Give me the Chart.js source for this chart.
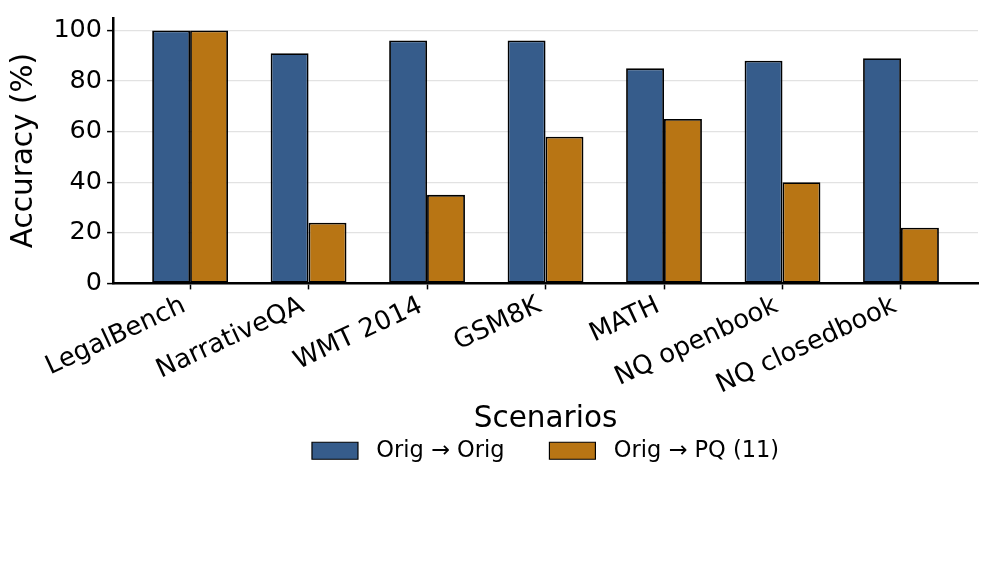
<!DOCTYPE html>
<html>
<head>
<meta charset="utf-8">
<script src="https://cdn.jsdelivr.net/npm/chart.js@4/dist/chart.umd.min.js"></script>
<style>
  html, body { margin: 0; padding: 0; background: #ffffff; }
  #wrap { width: 996px; height: 586px; }
</style>
</head>
<body>
<div id="wrap"><canvas id="c" width="996" height="586"></canvas></div>
<script>
const categories = ["LegalBench", "NarrativeQA", "WMT 2014", "GSM8K", "MATH", "NQ openbook", "NQ closedbook"];
const origOrig = [100, 91, 96, 96, 85, 88, 89];
const origPQ = [100, 24, 35, 58, 65, 40, 22];
const seriesNames = ["Orig \u2192 Orig", "Orig \u2192 PQ (11)"];
const yTicks = [0, 20, 40, 60, 80, 100];

const FONT = "'DejaVu Sans', sans-serif";
const toXY = arr => arr.map((v, i) => ({ x: i, y: v }));

// center the legend under the plot area (as the reference does)
const legendCenter = {
  id: 'legendCenter',
  afterLayout(chart) {
    if (chart.legend) {
      chart.legend.left = chart.chartArea.left;
      chart.legend.right = chart.chartArea.right;
    }
  }
};

new Chart(document.getElementById('c'), {
  type: 'bar',
  data: {
    datasets: [
      { label: seriesNames[0], data: toXY(origOrig), backgroundColor: '#365c8b', borderColor: '#000000', borderWidth: 1.8, borderSkipped: false },
      { label: seriesNames[1], data: toXY(origPQ), backgroundColor: '#b87514', borderColor: '#000000', borderWidth: 1.8, borderSkipped: false }
    ]
  },
  plugins: [legendCenter],
  options: {
    responsive: false,
    animation: false,
    devicePixelRatio: 1,
    categoryPercentage: 0.64,
    barPercentage: 1.0,
    layout: { padding: { left: 3, right: 18, top: 17, bottom: 114 } },
    plugins: {
      tooltip: { enabled: false },
      legend: {
        position: 'bottom',
        labels: {
          font: { family: FONT, size: 22.5 },
          color: '#000000',
          boxWidth: 46,
          boxHeight: 17,
          padding: 2,
          generateLabels: chart => chart.data.datasets.map((d, i) => ({
            text: ' ' + d.label + (i === 0 ? '      ' : ''),
            fillStyle: d.backgroundColor, strokeStyle: '#000000', lineWidth: 1.2, datasetIndex: i, hidden: false
          }))
        }
      }
    },
    scales: {
      x: {
        type: 'linear',
        min: -0.65,
        max: 6.65,
        offset: false,
        afterBuildTicks: s => { s.ticks = categories.map((c, i) => ({ value: i })); },
        ticks: {
          autoSkip: false,
          minRotation: 25,
          maxRotation: 25,
          padding: 1,
          labelOffset: -6,
          color: '#000000',
          font: { family: FONT, size: 26 },
          callback: v => categories[v]
        },
        grid: { offset: false, drawOnChartArea: false, drawTicks: true, tickLength: 6, tickColor: '#000000', tickWidth: 1.5 },
        border: { display: true, color: '#000000', width: 2.5 },
        title: { display: true, text: 'Scenarios', font: { family: FONT, size: 29.5 }, color: '#000000', padding: { top: 0, bottom: 0 } }
      },
      y: {
        min: 0,
        max: 105,
        afterBuildTicks: s => { s.ticks = yTicks.map(v => ({ value: v })); },
        ticks: { color: '#000000', font: { family: FONT, size: 25.5, lineHeight: 1.0 }, padding: 5 },
        grid: { color: '#e2e2e2', lineWidth: 1.2, tickLength: 6, tickColor: '#000000', tickWidth: 1.5 },
        border: { display: true, color: '#000000', width: 2.5 },
        title: { display: true, text: 'Accuracy (%)', font: { family: FONT, size: 29.5 }, color: '#000000', padding: { top: 4, bottom: 6 } }
      }
    }
  }
});
</script>
</body>
</html>
